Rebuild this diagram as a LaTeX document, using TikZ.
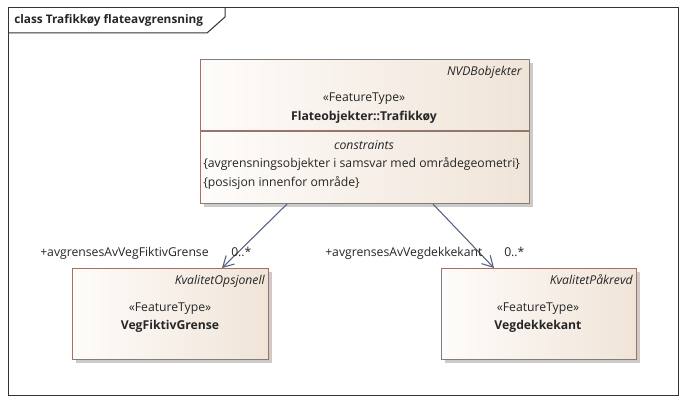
\documentclass[tikz,border=0pt]{standalone}
\usepackage{fontspec}
\setmainfont{Open Sans}
\usetikzlibrary{arrows.meta,shadows}
\definecolor{bord}{RGB}{150,118,108}
\definecolor{fillL}{RGB}{254,252,250}
\definecolor{fillR}{RGB}{240,228,216}
\definecolor{conn}{RGB}{88,98,128}
\newcommand{\dfont}{\fontsize{9.15}{11}\selectfont}
\begin{document}
\begin{tikzpicture}[x=0.75pt,y=-0.75pt,
  cls/.style={draw=bord, line width=0.8pt, left color=fillL, right color=fillR,
    drop shadow={shadow xshift=2.25pt,shadow yshift=-2.25pt,fill=black!40,opacity=0.5},
    inner sep=0pt, anchor=north west},
  txt/.style={font=\dfont, inner sep=0pt, text=black!85},
  conline/.style={draw=conn, line width=0.8pt, -{Straight Barb[length=8pt,width=9pt]}}]
\useasboundingbox[fill=white] (0,0) rectangle (686,403);
% frame
\draw[black!80, line width=0.75pt] (8,8) rectangle (678,395);
\draw[black!80, line width=0.75pt] (8,33) -- (207,33) -- (225,17) -- (225,8);
\node[txt, anchor=base west, font=\fontsize{8.85}{10}\selectfont\bfseries] (title) at (14,24) {class Trafikkøy flateavgrensning};
% main class
\node[cls, minimum width=246.75pt, minimum height=108pt] (main) at (200,59) {};
\draw[bord, line width=0.8pt] (main.west |- 0,131) -- (main.east |- 0,131);
\node[txt, anchor=base east, font=\dfont\itshape] (mpkg) at (522,76) {NVDBobjekter};
\node[txt, anchor=base] (mst) at (364,102) {«FeatureType»};
\node[txt, anchor=base, font=\dfont\bfseries] (mname) at (364,121) {Flateobjekter::Trafikkøy};
\node[txt, anchor=base, font=\dfont\itshape] (mcon) at (364,149) {constraints};
\node[txt, anchor=base west] (mc1) at (203,167) {\{avgrensningsobjekter i samsvar med områdegeometri\}};
\node[txt, anchor=base west] (mc2) at (203,186) {\{posisjon innenfor område\}};
% left class
\node[cls, minimum width=147pt, minimum height=68.25pt] (vfg) at (72,268) {};
\node[txt, anchor=base east, font=\dfont\itshape] (vpkg) at (265,284) {KvalitetOpsjonell};
\node[txt, anchor=base] (vst) at (170,311) {«FeatureType»};
\node[txt, anchor=base, font=\dfont\bfseries] (vname) at (170,329) {VegFiktivGrense};
% right class
\node[cls, minimum width=146.25pt, minimum height=68.25pt] (vdk) at (441,268) {};
\node[txt, anchor=base east, font=\dfont\itshape] (kpkg) at (633,284) {KvalitetPåkrevd};
\node[txt, anchor=base] (kst) at (538,311) {«FeatureType»};
\node[txt, anchor=base, font=\dfont\bfseries] (kname) at (538,329) {Vegdekkekant};
% connectors
\coordinate (s1) at ([xshift=65.25pt]main.south west);
\coordinate (e1) at ([xshift=112.5pt]vfg.north west);
\coordinate (s2) at ([xshift=174.75pt]main.south west);
\coordinate (e2) at ([xshift=39.75pt]vdk.north west);
\draw[conline] (s1) -- (e1);
\draw[conline] (s2) -- (e2);
\node[txt, anchor=base west] (l1) at (40,256) {+avgrensesAvVegFiktivGrense};
\node[txt, anchor=base west] (m1) at (231,256) {0..*};
\node[txt, anchor=base west] (l2) at (325,256) {+avgrensesAvVegdekkekant};
\node[txt, anchor=base west] (m2) at (504,256) {0..*};
\end{tikzpicture}
\end{document}
